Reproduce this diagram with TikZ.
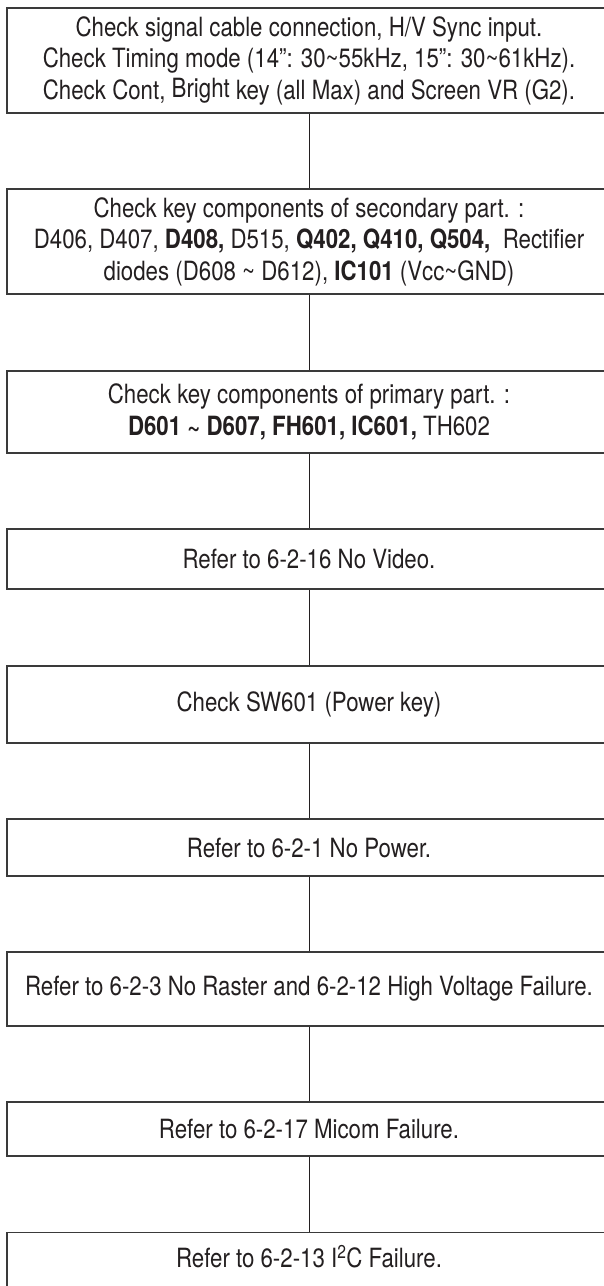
\documentclass[tikz,border=0pt]{standalone}
\usepackage{fontspec}
\setmainfont{TeX Gyre Heros}[FakeStretch=0.84]
\definecolor{ink}{HTML}{231F20}
\definecolor{rule}{HTML}{3A3A3A}
\begin{document}
\begin{tikzpicture}[x=1pt,y=-1pt,
  box/.style={draw=rule, line width=1.4pt, rectangle, inner sep=0pt,
    minimum width=604pt, align=center, text=ink,
    font=\fontsize{26.5}{31.5}\selectfont},
  txt/.style={inner sep=0pt, align=center, text=ink,
    font=\fontsize{26.5}{31.5}\selectfont},
  link/.style={draw=ink, line width=1pt}]
\useasboundingbox (0,0) rectangle (604,1286);
\fill[white] (0,0) rectangle (604,1286);

\node[box, minimum height=105pt] (b1) at (309,60.5) {Check signal cable connection, H/V Sync input.\\
Check Timing mode (14”: 30\textasciitilde55kHz, 15”: 30\textasciitilde61kHz).\\
Check Cont, \raisebox{1.5pt}{Bright} key (all Max) and Screen VR (G2).};

\node[box, minimum height=105pt] (b2) at (309,241.5) {Check key components of secondary part. :\\
D406, D407, \textbf{D408,} D515, \textbf{Q402, Q410, Q504,}\ \ Rectifier\\
diodes (D608 \textasciitilde{} D612), \textbf{IC101} (Vcc\textasciitilde GND)};

\node[box, minimum height=82pt] (b3) at (309,412) {Check key components of primary part. :\\
\textbf{D601 \textasciitilde{} D607, FH601, IC601,} TH602};

\node[box, minimum height=60pt] (b4) at (309,559) {Refer to 6-2-16 No Video.};

\node[box, minimum height=77pt] (b5) at (309,704.5) {Check SW601 (Power key)};

\node[box, minimum height=57pt] (b6) at (309,847.5) {Refer to 6-2-1 No Power.};

\node[box, minimum height=74pt] (b7) at (309,989) {Refer to 6-2-3 No Raster and 6-2-12 High Voltage Failure.};

\node[box, minimum height=54pt] (b8) at (309,1129) {Refer to 6-2-17 Micom Failure.};

\node[box, minimum height=90pt, anchor=north] (b9) at (309,1232) {};
\node[txt] (t9) at (309,1257) {Refer to 6-2-13 I\textsuperscript{2}C Failure.};

\draw[link] (b1.south) -- (b2.north);
\draw[link] (b2.south) -- (b3.north);
\draw[link] (b3.south) -- (b4.north);
\draw[link] (b4.south) -- (b5.north);
\draw[link] (b5.south) -- (b6.north);
\draw[link] (b6.south) -- (b7.north);
\draw[link] (b7.south) -- (b8.north);
\draw[link] (b8.south) -- (b9.north);
\end{tikzpicture}
\end{document}
